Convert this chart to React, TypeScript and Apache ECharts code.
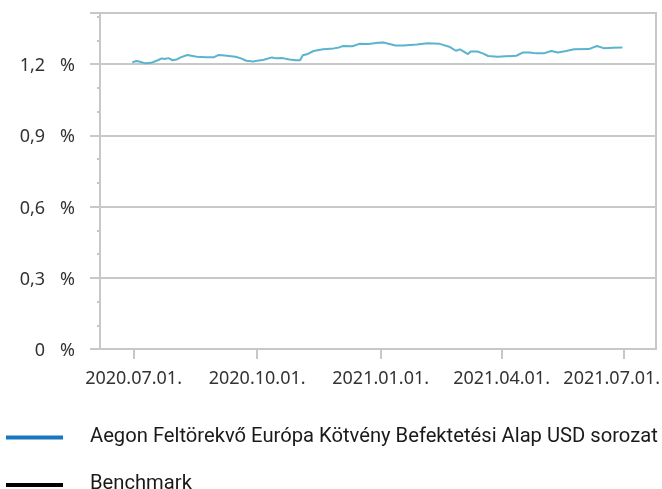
import React, { useEffect, useRef } from "react";
import * as echarts from "echarts";

const dates = ['2020-06-30','2020-07-03','2020-07-05','2020-07-10','2020-07-14','2020-07-19','2020-07-22','2020-07-24','2020-07-27','2020-07-30','2020-08-02','2020-08-05','2020-08-10','2020-08-17','2020-08-24','2020-08-30','2020-09-02','2020-09-05','2020-09-15','2020-09-19','2020-09-23','2020-09-28','2020-10-06','2020-10-12','2020-10-15','2020-10-20','2020-10-25','2020-10-30','2020-11-02','2020-11-04','2020-11-07','2020-11-12','2020-11-19','2020-11-27','2020-12-01','2020-12-04','2020-12-11','2020-12-16','2020-12-23','2020-12-30','2021-01-03','2021-01-12','2021-01-18','2021-01-28','2021-02-05','2021-02-14','2021-02-21','2021-02-26','2021-03-01','2021-03-07','2021-03-09','2021-03-14','2021-03-18','2021-03-22','2021-03-29','2021-04-12','2021-04-17','2021-04-22','2021-04-27','2021-05-03','2021-05-08','2021-05-13','2021-05-19','2021-05-25','2021-06-05','2021-06-11','2021-06-16','2021-06-23','2021-06-30'];

const fundValues = [1.207,1.213,1.211,1.203,1.205,1.216,1.224,1.221,1.225,1.216,1.219,1.228,1.238,1.231,1.229,1.229,1.238,1.237,1.231,1.224,1.214,1.211,1.218,1.228,1.224,1.225,1.219,1.216,1.216,1.237,1.241,1.255,1.262,1.266,1.270,1.276,1.275,1.285,1.284,1.290,1.291,1.278,1.278,1.282,1.288,1.285,1.273,1.256,1.262,1.242,1.253,1.253,1.245,1.234,1.231,1.235,1.249,1.249,1.245,1.246,1.255,1.249,1.255,1.262,1.263,1.276,1.267,1.269,1.270];

const benchmarkValues: number[] = [];

const xTickDates = ['2020-07-01','2020-10-01','2021-01-01','2021-04-01','2021-07-01'];
const seriesNames = ['Aegon Feltörekvő Európa Kötvény Befektetési Alap USD sorozat', 'Benchmark'];
const legendColors = ['#1778c0', '#000000'];

const ts = (d: string) => {
  const [y, m, dd] = d.split('-').map(Number);
  return Date.UTC(y, m - 1, dd);
};

export default function App() {
  const ref = useRef<HTMLDivElement>(null);
  useEffect(() => {
    if (!ref.current) return;
    const chart = echarts.init(ref.current, undefined, { renderer: "svg" });
    const gray = '#c8c8c8';
    const tickTs = xTickDates.map(ts);
    const lastTick = tickTs[tickTs.length - 1];
    const labelFont = { fontFamily: 'Noto Sans', fontSize: 18, color: '#333' };
    const legendFont = { fontFamily: 'Roboto', fontSize: 20.2, color: '#1a1a1a' };
    const legendTops = [419.5, 467];
    chart.setOption({
      animation: false,
      grid: {
        left: 100, right: 6, top: 13, bottom: 140,
        show: true, borderColor: gray, borderWidth: 2,
        containLabel: false, outerBoundsMode: 'none',
      },
      xAxis: {
        type: 'value',
        min: ts('2020-06-06'),
        max: ts('2021-07-25'),
        axisLine: { show: true, lineStyle: { color: gray, width: 2 } },
        axisTick: { show: true, length: 10, lineStyle: { color: gray, width: 2 }, customValues: tickTs },
        splitLine: { show: false },
        axisLabel: {
          customValues: tickTs,
          margin: 19,
          ...labelFont,
          hideOverlap: false,
          formatter: (v: number) => {
            const d = new Date(v);
            const p = (n: number) => String(n).padStart(2, '0');
            const s = `${d.getUTCFullYear()}.${p(d.getUTCMonth() + 1)}.${p(d.getUTCDate())}.`;
            return v === lastTick ? `{last|${s}}` : s;
          },
          rich: {
            last: { ...labelFont, padding: [0, 24, 0, 0] },
          },
        },
      },
      yAxis: {
        type: 'value',
        min: 0,
        max: 1.415,
        interval: 0.3,
        axisLine: { show: true, lineStyle: { color: gray, width: 2 } },
        axisTick: { show: true, length: 10, lineStyle: { color: gray, width: 2 } },
        minorTick: { show: true, splitNumber: 3, length: 3, lineStyle: { color: gray, width: 2 } },
        splitLine: { show: true, lineStyle: { color: gray, width: 2 } },
        axisLabel: {
          margin: 25,
          showMaxLabel: false,
          ...labelFont,
          formatter: (v: number) => {
            const s = v === 0 ? '0' : v.toFixed(1).replace('.', ',');
            return `{n|${s}}{p|%}`;
          },
          rich: {
            n: { width: 30, align: 'right', ...labelFont },
            p: { padding: [0, 0, 0, 15], ...labelFont },
          },
        },
      },
      legend: seriesNames.map((name, i) => ({
        orient: 'vertical',
        left: 1,
        top: legendTops[i],
        itemWidth: 57,
        itemHeight: 4,
        icon: 'rect',
        selectedMode: false,
        formatter: (n: string) => `{t|${n}}`,
        textStyle: {
          ...legendFont,
          padding: [0, 0, 0, 22],
          rich: { t: { ...legendFont, lineHeight: 18, padding: [0, 0, 6, 0] } },
        },
        data: [{ name, itemStyle: { color: legendColors[i] } }],
      })),
      series: [
        {
          name: seriesNames[0],
          type: 'line',
          data: dates.map((d, i) => [ts(d), fundValues[i]]),
          showSymbol: false,
          symbol: 'none',
          lineStyle: { color: '#5ab4cf', width: 2 },
          itemStyle: { color: '#5ab4cf' },
        },
        {
          name: seriesNames[1],
          type: 'line',
          data: benchmarkValues,
          showSymbol: false,
          lineStyle: { color: '#000', width: 2 },
          itemStyle: { color: '#000' },
        },
      ],
    });
    return () => chart.dispose();
  }, []);
  return <div ref={ref} style={{ position: 'fixed', left: 0, top: 0, width: 662, height: 489 }} />;
}
